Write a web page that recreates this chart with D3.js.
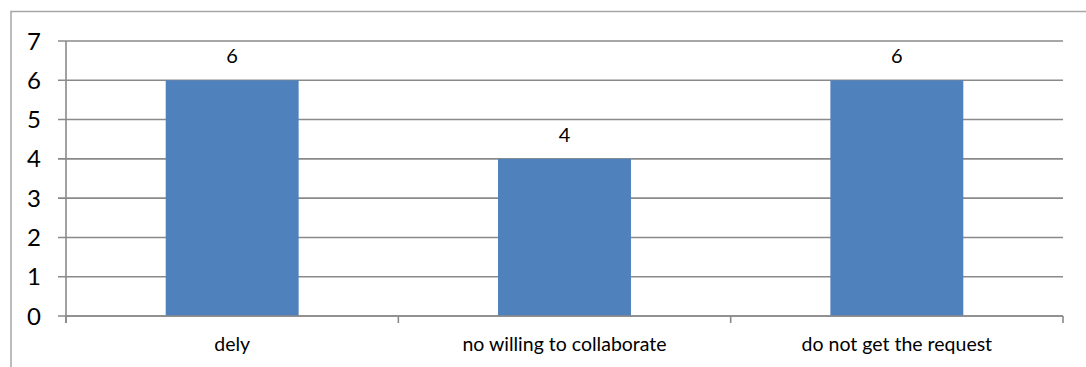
<!DOCTYPE html>
<html>
<head>
<meta charset="utf-8">
<script src="https://cdn.jsdelivr.net/npm/d3@7/dist/d3.min.js"></script>
<style>
  html, body { margin: 0; padding: 0; background: #fff; }
  svg { display: block; }
</style>
</head>
<body>
<svg id="chart" width="1086" height="367"></svg>
<script>
// Chart data
const categories = ["dely", "no willing to collaborate", "do not get the request"];
const values = [6, 4, 6];
const yTicks = [0, 1, 2, 3, 4, 5, 6, 7];

const W = 1086, H = 367;
const margin = { left: 66, right: 23, top: 41, bottom: 51 };
const svg = d3.select("#chart");
const fontFamily = "Lato, 'Open Sans', sans-serif";

// Outer chart border
svg.append("rect")
  .attr("x", 11).attr("y", 11.5)
  .attr("width", 1090).attr("height", 400)
  .attr("fill", "none")
  .attr("stroke", "#a6a6a6")
  .attr("stroke-width", 1.5);

const x = d3.scaleBand()
  .domain(categories)
  .range([margin.left, W - margin.right])
  .paddingInner(0).paddingOuter(0);

const y = d3.scaleLinear()
  .domain([0, 7])
  .range([H - margin.bottom, margin.top]);

const gridColor = "#8a8a8a";

// Horizontal gridlines with outside tick marks
svg.append("g")
  .selectAll("line")
  .data(yTicks)
  .join("line")
  .attr("x1", margin.left - 8)
  .attr("x2", W - margin.right)
  .attr("y1", d => y(d))
  .attr("y2", d => y(d))
  .attr("stroke", gridColor)
  .attr("stroke-width", 1.6);

// Bars
const barW = x.bandwidth() * 0.4;
svg.append("g")
  .selectAll("rect")
  .data(values)
  .join("rect")
  .attr("x", (d, i) => x(categories[i]) + (x.bandwidth() - barW) / 2)
  .attr("y", d => y(d))
  .attr("width", barW)
  .attr("height", d => y(0) - y(d))
  .attr("fill", "#4f81bd");

// Y axis line
svg.append("line")
  .attr("x1", margin.left).attr("x2", margin.left)
  .attr("y1", y(7)).attr("y2", y(0) + 7)
  .attr("stroke", gridColor).attr("stroke-width", 1.6);

// X axis baseline
svg.append("line")
  .attr("x1", margin.left).attr("x2", W - margin.right)
  .attr("y1", y(0)).attr("y2", y(0))
  .attr("stroke", gridColor).attr("stroke-width", 1.6);

// Category boundary ticks
const boundaries = categories.map(c => x(c)).concat([x(categories[categories.length - 1]) + x.bandwidth()]);
svg.append("g")
  .selectAll("line")
  .data(boundaries)
  .join("line")
  .attr("x1", d => d).attr("x2", d => d)
  .attr("y1", y(0)).attr("y2", y(0) + 7)
  .attr("stroke", gridColor).attr("stroke-width", 1.6);

// Y tick labels
svg.append("g")
  .selectAll("text")
  .data(yTicks)
  .join("text")
  .attr("x", 41)
  .attr("y", d => y(d))
  .attr("dy", "0.36em")
  .attr("text-anchor", "end")
  .attr("font-family", fontFamily)
  .attr("font-size", 24)
  .attr("fill", "#000")
  .text(d => d);

// Category labels
svg.append("g")
  .selectAll("text")
  .data(categories)
  .join("text")
  .attr("x", d => x(d) + x.bandwidth() / 2)
  .attr("y", 351)
  .attr("text-anchor", "middle")
  .attr("font-family", fontFamily)
  .attr("font-size", 19.5)
  .attr("fill", "#000")
  .text(d => d);

// Value labels above bars
svg.append("g")
  .selectAll("text")
  .data(values)
  .join("text")
  .attr("x", (d, i) => x(categories[i]) + x.bandwidth() / 2)
  .attr("y", d => y(d) - 17)
  .attr("text-anchor", "middle")
  .attr("font-family", fontFamily)
  .attr("font-size", 20)
  .attr("fill", "#000")
  .text(d => d);
</script>
</body>
</html>
